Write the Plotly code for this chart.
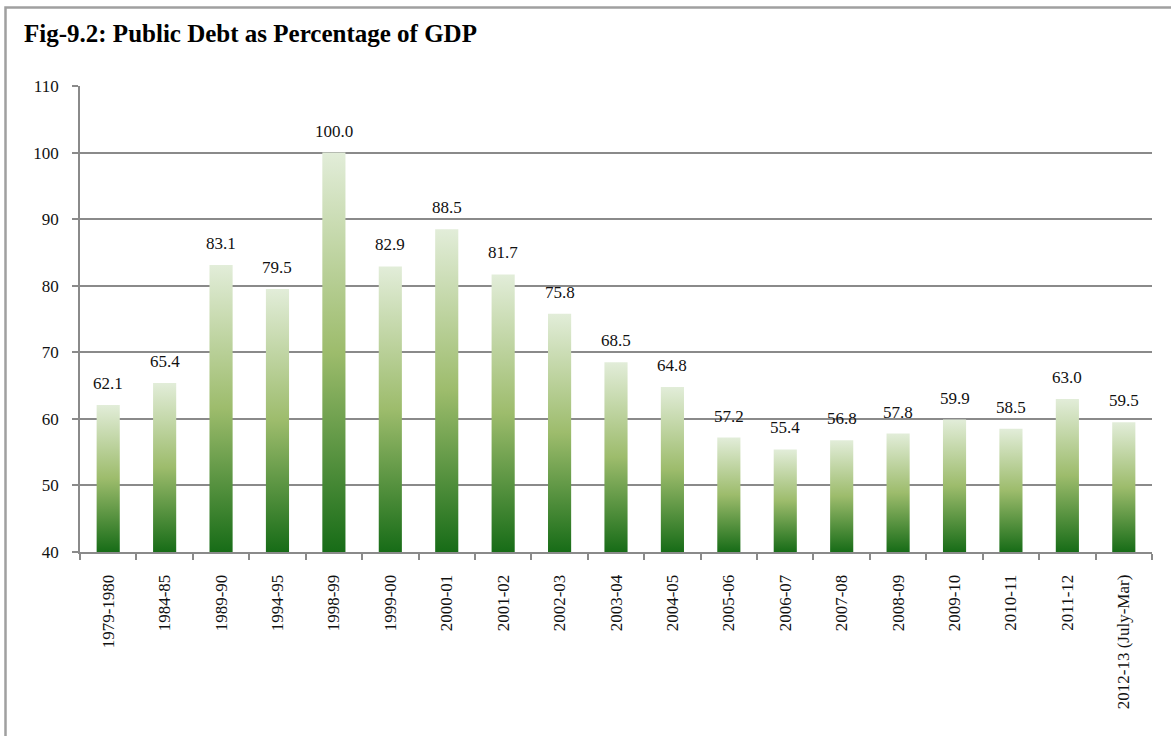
import plotly.graph_objects as go

categories = ["1979-1980", "1984-85", "1989-90", "1994-95", "1998-99", "1999-00",
              "2000-01", "2001-02", "2002-03", "2003-04", "2004-05", "2005-06",
              "2006-07", "2007-08", "2008-09", "2009-10", "2010-11", "2011-12",
              "2012-13 (July-Mar)"]
values = [62.1, 65.4, 83.1, 79.5, 100.0, 82.9, 88.5, 81.7, 75.8, 68.5, 64.8,
          57.2, 55.4, 56.8, 57.8, 59.9, 58.5, 63.0, 59.5]
y_ticks = [40, 50, 60, 70, 80, 90, 100, 110]

Y_MIN, Y_MAX = 40, 110
BAR_W = 0.41
FONT = "Liberation Serif, Times New Roman, serif"
GRAY = "#8a8a8a"
scale = [[0, "#176c17"], [0.5, "#9dbc6c"], [1, "#e2edd9"]]

W, H = 1171, 736
L, R, T, B = 80, 1152, 86, 552

fig = go.Figure()
idx = list(range(len(categories)))
for i, v in zip(idx, values):
    fig.add_trace(go.Scatter(
        x=[i - BAR_W / 2, i + BAR_W / 2, i + BAR_W / 2, i - BAR_W / 2, i - BAR_W / 2],
        y=[Y_MIN, Y_MIN, v, v, Y_MIN],
        fill="toself", mode="lines", line=dict(width=0),
        fillgradient=dict(type="vertical", colorscale=scale),
        showlegend=False, hoverinfo="skip"))

for i, v in zip(idx, values):
    fig.add_annotation(x=i, y=v, text=f"{v:.1f}", showarrow=False,
                       xanchor="center", yanchor="bottom", yshift=10,
                       font=dict(family=FONT, size=17, color="#111"))

def px_x(p):
    return (p - L) / (R - L)

def px_y(p):
    return (B - p) / (B - T)

fig.add_shape(type="path", xref="paper", yref="paper",
              path=f"M {px_x(5.5)} {px_y(740)} L {px_x(5.5)} {px_y(7.5)} L {px_x(1175)} {px_y(7.5)}",
              line=dict(color="#a0a0a0", width=2.5))

fig.add_annotation(xref="paper", yref="paper", x=px_x(22), y=px_y(33),
                   xanchor="left", yanchor="middle", showarrow=False,
                   text="<b>Fig-9.2: Public Debt as Percentage of GDP</b>",
                   font=dict(family=FONT, size=25, color="#000"))

fig.update_layout(
    width=W, height=H,
    margin=dict(l=L, r=W - R, t=T, b=H - B),
    paper_bgcolor="white", plot_bgcolor="white",
    font=dict(family=FONT, size=17, color="#111"),
    xaxis=dict(range=[-0.5, len(categories) - 0.5], tickmode="array",
               tickvals=idx, ticktext=categories, tickangle=-90, ticks="",
               showgrid=False, zeroline=False, showline=True, linecolor=GRAY,
               linewidth=1.8, ticklabelstandoff=14,
               tickfont=dict(family=FONT, size=17, color="#111"),
               minor=dict(tickmode="array",
                          tickvals=[i - 0.5 for i in range(len(categories) + 1)],
                          ticks="outside", ticklen=6, tickcolor=GRAY, tickwidth=1.8,
                          showgrid=False)),
    yaxis=dict(range=[Y_MIN, Y_MAX], tickmode="array", tickvals=y_ticks,
               showgrid=True, gridcolor=GRAY, gridwidth=1.8, zeroline=False,
               showline=True, linecolor=GRAY, linewidth=1.8, ticks="outside",
               ticklen=6, tickcolor=GRAY, tickwidth=1.8, ticklabelstandoff=10,
               tickfont=dict(family=FONT, size=17, color="#111")),
)

fig.write_html("out.html", config={"displayModeBar": False},
               post_script="document.body.style.margin='0';")
